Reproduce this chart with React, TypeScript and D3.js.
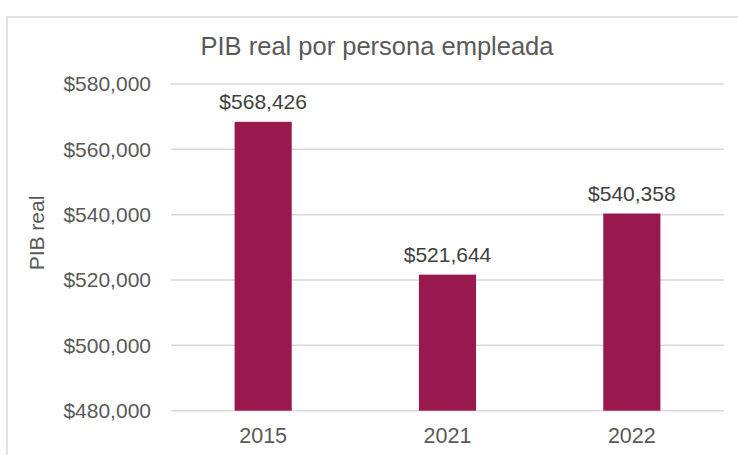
import React, { useEffect, useRef } from 'react';
import * as d3 from 'd3';

const years = ['2015', '2021', '2022'];
const values = [568426, 521644, 540358];
const yTicks = [480000, 500000, 520000, 540000, 560000, 580000];

const W = 738;
const H = 455;
const FONT = '"Liberation Sans", Arial, sans-serif';
const TEXT = '#595959';
const BAR = '#99194F';
const GRID = '#d9d9d9';

const App: React.FC = () => {
  const svgRef = useRef<SVGSVGElement | null>(null);

  useEffect(() => {
    document.body.style.margin = '0';
    const svgEl = svgRef.current;
    if (!svgEl) return;
    const svg = d3.select(svgEl);
    svg.selectAll('*').remove();

    svg.append('rect').attr('width', W).attr('height', H).attr('fill', '#fff');

    // chart frame (cut off at right and bottom)
    svg.append('rect')
      .attr('x', 7).attr('y', 17)
      .attr('width', W + 20).attr('height', H + 20)
      .attr('fill', 'none').attr('stroke', GRID).attr('stroke-width', 1.5);

    const x = d3.scaleBand<string>().domain(years).range([171, 724]).paddingInner(0.69).paddingOuter(0.345);
    const y = d3.scaleLinear().domain([480000, 580000]).range([410.7, 84]);
    const money = (v: number) => '$' + d3.format(',')(v);

    // gridlines
    svg.append('g').selectAll('line').data(yTicks).enter().append('line')
      .attr('x1', 171).attr('x2', 724)
      .attr('y1', (d) => y(d)).attr('y2', (d) => y(d))
      .attr('stroke', GRID).attr('stroke-width', 1.5);

    // y tick labels
    svg.append('g').selectAll('text').data(yTicks).enter().append('text')
      .attr('x', 151).attr('y', (d) => y(d) + 7.2)
      .attr('text-anchor', 'end')
      .attr('font-family', FONT).attr('font-size', 21).attr('fill', TEXT)
      .text((d) => money(d));

    // bars
    svg.append('g').selectAll('rect').data(values).enter().append('rect')
      .attr('x', (_, i) => x(years[i])!)
      .attr('width', x.bandwidth())
      .attr('y', (d) => y(d))
      .attr('height', (d) => y(480000) - y(d))
      .attr('fill', BAR);

    // data labels
    svg.append('g').selectAll('text').data(values).enter().append('text')
      .attr('x', (_, i) => x(years[i])! + x.bandwidth() / 2)
      .attr('y', (d) => y(d) - 12.5)
      .attr('text-anchor', 'middle')
      .attr('font-family', FONT).attr('font-size', 21).attr('fill', '#404040')
      .text((d) => money(d));

    // category labels
    svg.append('g').selectAll('text').data(years).enter().append('text')
      .attr('x', (d) => x(d)! + x.bandwidth() / 2)
      .attr('y', 442.8)
      .attr('text-anchor', 'middle')
      .attr('font-family', FONT).attr('font-size', 21.5).attr('fill', TEXT)
      .text((d) => d);

    // axis title
    svg.append('text')
      .attr('transform', 'translate(44, 233) rotate(-90)')
      .attr('text-anchor', 'middle')
      .attr('font-family', FONT).attr('font-size', 21).attr('fill', TEXT)
      .text('PIB real');

    // chart title
    svg.append('text')
      .attr('x', 377).attr('y', 54.5)
      .attr('text-anchor', 'middle')
      .attr('font-family', FONT).attr('font-size', 25.5).attr('fill', TEXT)
      .text('PIB real por persona empleada');
  }, []);

  return <svg ref={svgRef} width={W} height={H} style={{ display: 'block' }}></svg>;
};

export default App;
